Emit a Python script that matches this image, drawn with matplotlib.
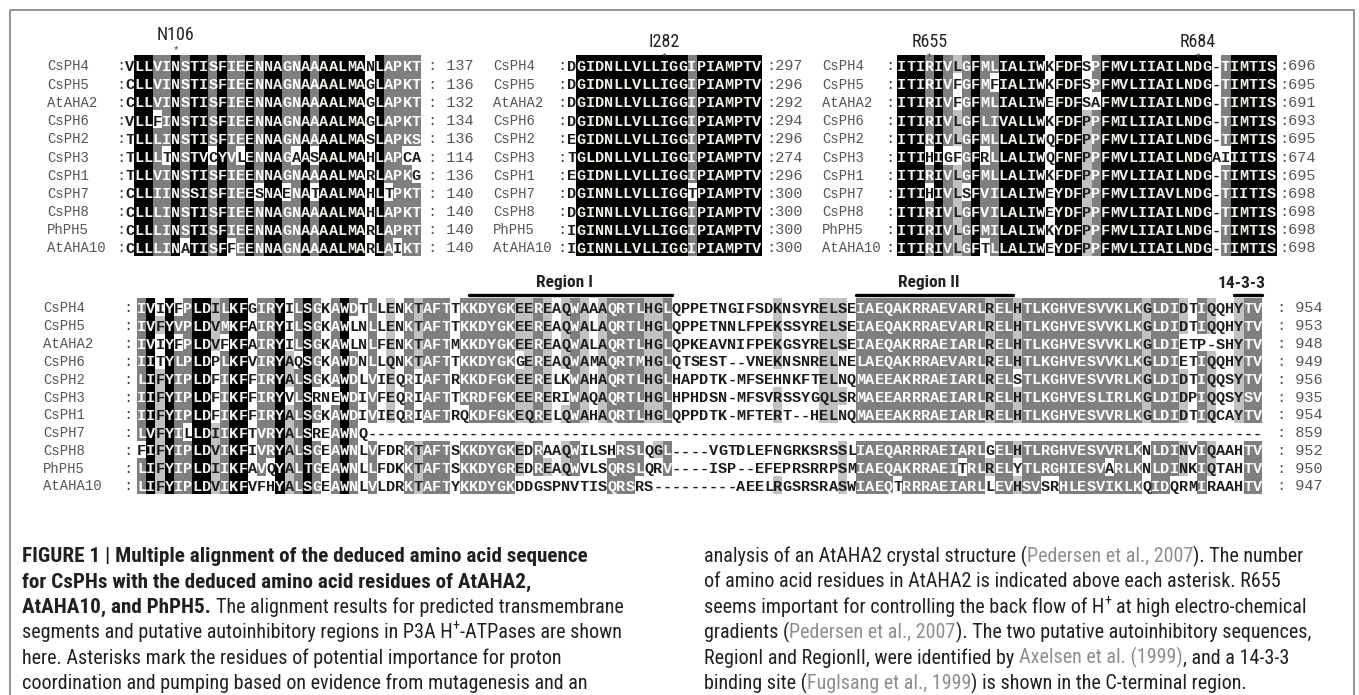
import matplotlib
matplotlib.use("Agg")
import numpy as np
import matplotlib.pyplot as plt
from matplotlib import font_manager
from matplotlib.patches import Rectangle

# ------------------------------------------------------------------ data
names = ["CsPH4", "CsPH5", "AtAHA2", "CsPH6", "CsPH2", "CsPH3",
         "CsPH1", "CsPH7", "CsPH8", "PhPH5", "AtAHA10"]

# transmembrane segment around N106
tm1_seq = [
    "VLLVINSTISFIEENNAGNAAAALMANLAPKT",
    "CLLVINSTISFIEENNAGNAAAALMAGLAPKT",
    "CLLVINSTISFIEENNAGNAAAALMAGLAPKT",
    "VLLFINSTISFIEENNAGNAAAALMAGLAPKT",
    "TLLLINSTISFIEENNAGNAAAALMASLAPKS",
    "TLLLTNSTVCYVLENNAGAASAALMAHLAPCA",
    "TLLVINSTISFIEENNAGNAAAALMARLAPKG",
    "CLLIINSSISFIEESNAENATAALMAHLTPKT",
    "CLLLINSTISFIEENNAGNAAAALMAHLAPKT",
    "CLLLINSTISFIEENNAGNAAAALMARLAPRT",
    "CLLLINATISFFEENNAGNAAAALMARLAIKT",
]
tm1_end = [137, 136, 132, 134, 136, 114, 136, 140, 140, 140, 140]

# transmembrane segment around I282
tm2_seq = [
    "DGIDNLLVLLIGGIPIAMPTV",
    "DGIDNLLVLLIGGIPIAMPTV",
    "DGIDNLLVLLIGGIPIAMPTV",
    "DGIDNLLVLLIGGIPIAMPTV",
    "EGIDNLLVLLIGGIPIAMPTV",
    "TGLDNLLVLLIGGIPIAMPTV",
    "EGIDNLLVLLIGGIPIAMPTV",
    "DGINNLLVLLIGGTPIAMPTV",
    "DGINNLLVLLIGGIPIAMPTV",
    "IGINNLLVLLIGGIPIAMPTV",
    "IGINNLLVLLIGGIPIAMPTV",
]
tm2_end = [297, 296, 292, 294, 296, 274, 296, 300, 300, 300, 300]

# transmembrane segments around R655 / R684
tm3_seq = [
    "ITIRIVLGFMLIALIWKFDFSPFMVLIIAILNDG-TIMTIS",
    "ITIRIVFGFMFIALIWKFDFSPFMVLIIAILNDG-TIMTIS",
    "ITIRIVFGFMLIALIWEFDFSAFMVLIIAILNDG-TIMTIS",
    "ITIRIVLGFLIVALLWKFDFPPFMILIIAILNDG-TIMTIS",
    "ITIRIVLGFMLLALIWQFDFPPFMVLIIAILNDG-TIMTIS",
    "ITIHIGFGFRLLALIWQFNFPPFMVLIIAILNDGAIIITIS",
    "ITIRIVLGFMLLALIWKFDFPPFMVLIIAILNDG-TIMTIS",
    "ITIHIVLSFVILALIWEYDFPPFMVLIIAVLNDG-TIITIS",
    "ITIRIVLGFVILALIWEYDFPPFMVLIIAILNDG-TIMTIS",
    "ITIRIVLGFMILALIWKYDFPPFMVLIIAILNDG-TIMTIS",
    "ITIRIVLGFTLLALIWEYDFPPFMVLIIAILNDG-TIMTIS",
]
tm3_end = [696, 695, 691, 693, 695, 674, 695, 698, 698, 698, 698]

# C-terminal region
ct_seq = [
    "IVIYFPLDILKFGIRYILSGKAW" "DTLLENKTAFTTKKDYGKEEREAQWAAAQRTLHGLQ"
    "PPETNGIFSDKNSYRELSEIAEQAKRRAEVARLREL" "HTLKGHVESVVKLKGLDIDTIQQHYTV",
    "IVFYVPLDVMKFAIRYILSGKAW" "LNLLENKTAFTTKKDYGKEEREAQWALAQRTLHGLQ"
    "PPETNNLFPEKSSYRELSEIAEQAKRRAEVARLREL" "HTLKGHVESVVKLKGLDIDTIQQHYTV",
    "IVIYFPLDVFKFAIRYILSGKAW" "LNLFENKTAFTMKKDYGKEEREAQWALAQRTLHGLQ"
    "PKEAVNIFPEKGSYRELSEIAEQAKRRAEIARLREL" "HTLKGHVESVVKLKGLDIETP-SHYTV",
    "IITYLPLDPLKFVIRYAQSGKAW" "DNLLQNKTAFTTKKDYGKGEREAQWAMAQRTMHGLQ"
    "TSEST--VNEKNSNRELNELAEQAKRRAEVARLREL" "HTLKGHVESVVKLKGLDIETIQQHYTV",
    "LIFYIPLDFIKFFIRYALSGKAW" "DLVIEQRIAFTRKKDFGKEERELKWAHAQRTLHGLH"
    "APDTK-MFSEHNKFTELNQMAEEAKRRAEIARLREL" "STLKGHVESVVRLKGLDIDTIQQSYTV",
    "IIFYIPLDFIKFFIRYVLSRNEW" "DIVFEQRIAFTTKRDFGKEERERIWAQAQRTLHGLH"
    "PHDSN-MFSVRSSYGQLSRMAEEARRRAEIARLREL" "HTLKGHVESLIRLKGLDIDPIQQSYSV",
    "IIFYIPLDFIKFFIRYALSGKAW" "DIVIEQRIAFTRQKDFGKEQRELQWAHAQRTLHGLQ"
    "PPDTK-MFTERT--HELNQMAEEAKRRAEIARLREL" "HTLKGHVESVVRLKGLDIDTIQCAYTV",
    "LVFYILLDIIKFTVRYALSREAW" "NQ" "----------" "----------" "----------" "----"
    "----------" "----------" "----------" "------"
    "----------" "----------" "-------",
    "FIFYIPLDVIKFIVRYALSGEAW" "NLVFDRKTAFTSKKDYGKEDRAAQWILSHRSLQGL-"
    "---VGTDLEFNGRKSRSSLIAEQARRRAEIARLGEL" "HTLRGHVESVVRLKNLDINVIQAAHTV",
    "LIFYIPLDIIKFAVQYALTGEAW" "NLLFDKKTAFTSKKDYGREDREAQWVLSQRSLQRV-"
    "---ISP--EFEPRSRRPSMIAEQAKRRAEITRLREL" "YTLRGHIESVARLKNLDINKIQTAHTV",
    "LIFYIPLDVIKFVFHYALSGEAW" "NLVLDRKTAFTYKKDYGKDDGSPNVTISQRSRS---"
    "------AEELRGSRSRASWIAEQTRRRAEIARLLEV" "HSVSRHLESVIKLKQIDQRMIRAAHTV",
]
ct_end = [954, 953, 948, 949, 956, 935, 954, 859, 952, 950, 947]

# residues marked with an asterisk (AtAHA2 numbering)
site_labels = ["N106", "I282", "R655", "R684"]
site_block = [0, 1, 2, 2]
site_residue = [106, 282, 655, 684]
ref_row = names.index("AtAHA2")

# autoinhibitory regions and 14-3-3 site (alignment columns of the C-terminal block)
region_labels = ["Region I", "Region II", "14-3-3"]
region_first = [36, 78, 119]
region_last = [57, 94, 121]

# ------------------------------------------------------------------ style
W, H = 1359, 695
MONO = "Liberation Mono"
installed = {f.name for f in font_manager.fontManager.ttflist}


def pick(*cands):
    for c in cands:
        if c in installed:
            return c
    return "DejaVu Sans"


NARROW = pick("Liberation Sans Narrow", "Roboto Condensed", "Open Sans Condensed",
              "Arial Narrow", "Liberation Sans")

SIM_GROUPS = ["DN", "EQ", "ST", "KR", "FYW", "LIVM"]
BG = np.array([[1.0, 1.0, 1.0], [0.76, 0.76, 0.76], [0.50, 0.50, 0.50], [0.0, 0.0, 0.0]])
FG = ["#1c1c1c", "#1c1c1c", "#ffffff", "#f4f2e8"]


def group_of(a):
    for g in SIM_GROUPS:
        if a in g:
            return g
    return a


def conservation(seqs):
    n, L = len(seqs), len(seqs[0])
    lv = np.zeros((n, L), dtype=int)
    for j in range(L):
        col = [s[j] for s in seqs]
        counts = {}
        for a in col:
            if a != "-":
                g = group_of(a)
                counts[g] = counts.get(g, 0) + 1
        if not counts:
            continue
        g, k = max(counts.items(), key=lambda kv: kv[1])
        frac = k / n
        level = 3 if k == n else 2 if frac >= 0.8 else 1 if frac >= 0.6 else 0
        for i, a in enumerate(col):
            if a != "-" and group_of(a) == g:
                lv[i, j] = level
    return lv


def column_of(seq, end, residue):
    num = end
    for j in range(len(seq) - 1, -1, -1):
        if seq[j] == "-":
            continue
        if num == residue:
            return j
        num -= 1
    return 0


fig = plt.figure(figsize=(W / 100, H / 100), dpi=100)
ax = fig.add_axes([0, 0, 1, 1])
ax.set_axis_off()

# outer frame
ax.add_patch(Rectangle((10, 10), 1344, 700, fill=False, edgecolor="#8a8a8a",
                       linewidth=1.3, zorder=5))


def draw_block(seqs, ends, x0, cw, yc0, rh, label_x, colon_x, num_gap, num_space,
               fs=11.0, label_fs=10.0):
    lv = conservation(seqs)
    n, L = lv.shape
    top = yc0 - 10.0
    ax.imshow(BG[lv], extent=[x0, x0 + L * cw, top + n * rh, top],
              interpolation="nearest", aspect="auto", zorder=1)
    x1 = x0 + L * cw
    for i, s in enumerate(seqs):
        yc = yc0 + i * rh
        ax.text(label_x, yc + 4.5, names[i], family=MONO, fontsize=label_fs,
                color="#555555", ha="left", va="baseline", zorder=3)
        ax.text(colon_x, yc + 4.5, ":", family=MONO, fontsize=label_fs + 1,
                color="#444444", ha="center", va="baseline", zorder=3)
        for j, ch in enumerate(s):
            ax.text(x0 + (j + 0.5) * cw, yc + 5.0, ch, family=MONO, fontsize=fs,
                    fontweight="bold", color=FG[lv[i, j]], ha="center",
                    va="baseline", zorder=3)
        ax.text(x1 + num_gap, yc + 4.5, ":" + (" " if num_space else "") + str(ends[i]),
                family=MONO, fontsize=fs, color="#555555", ha="left", va="baseline",
                zorder=3)
    return lv


# ---- upper panel: three transmembrane blocks
row_h = 18.2
top_y = 66.0
blocks = [
    dict(seqs=tm1_seq, ends=tm1_end, x0=125.0, label_x=47.0, colon_x=121.0,
         num_gap=6.5, num_space=True),
    dict(seqs=tm2_seq, ends=tm2_end, x0=567.0, label_x=493.0, colon_x=562.0,
         num_gap=4.5, num_space=False),
    dict(seqs=tm3_seq, ends=tm3_end, x0=897.0, label_x=822.0, colon_x=890.0,
         num_gap=3.0, num_space=False),
]
cw_top = 9.25
for b in blocks:
    draw_block(b["seqs"], b["ends"], b["x0"], cw_top, top_y, row_h, b["label_x"],
               b["colon_x"], b["num_gap"], b["num_space"])

for lab, bi, res in zip(site_labels, site_block, site_residue):
    b = blocks[bi]
    j = column_of(b["seqs"][ref_row], b["ends"][ref_row], res)
    xc = b["x0"] + (j + 0.5) * cw_top
    ly = 35 if bi == 0 else 42
    ax.text(xc, ly, lab, family=NARROW, fontsize=13, color="#222222",
            ha="center", va="center", zorder=3)
    ax.text(xc, ly + 15, "*", family=MONO, fontsize=8, color="#444444",
            ha="center", va="center", zorder=3)

# ---- lower panel: C-terminal block
ct_x0 = 137.0
cw_bot = 9.22
bot_y = 308.0
draw_block(ct_seq, ct_end, ct_x0, cw_bot, bot_y, 17.8, 43.0, 128.0, 15.0, True)

line_y = 295.0
for lab, a, b in zip(region_labels, region_first, region_last):
    xa = ct_x0 + a * cw_bot
    xb = ct_x0 + (b + 1) * cw_bot
    ax.plot([xa, xb], [line_y, line_y], color="black", linewidth=2.4,
            solid_capstyle="round", zorder=3)
    ax.text((xa + xb) / 2 - 6, line_y - 12, lab, family=NARROW, fontsize=12.5,
            fontweight="bold", color="#222222", ha="center", va="center", zorder=3)

# ---- caption
renderer = fig.canvas.get_renderer()


def text_width(s, **kw):
    t = ax.text(0, 0, s, **kw)
    w = t.get_window_extent(renderer).width
    t.remove()
    return w


probe = "segments and putative autoinhibitory regions in P3A H+-ATPases are shown"
cap_fs = 10.0 * 600.0 / text_width(probe, family=NARROW, fontsize=10.0)

STYLE = {
    "b": dict(color="#231f20", fontweight="bold"),
    "n": dict(color="#231f20"),
    "g": dict(color="#8e8e8e"),
    "sup": dict(color="#231f20"),
}
SIZE = {"b": 1.05, "n": 1.0, "g": 1.0, "sup": 0.7}


def draw_runs(x, y, runs):
    for text, kind in runs:
        props = dict(STYLE[kind])
        fs = cap_fs * SIZE[kind]
        dy = -8.0 if kind == "sup" else 0.0
        wprops = dict(family=NARROW, fontsize=fs)
        if "fontweight" in props:
            wprops["fontweight"] = props["fontweight"]
        sp = text_width("a a", **wprops) - text_width("aa", **wprops)
        lead = len(text) - len(text.lstrip(" "))
        trail = len(text) - len(text.rstrip(" "))
        x += lead * sp
        body = text.strip(" ")
        t = ax.text(x, y + dy, body, family=NARROW, fontsize=fs, ha="left",
                    va="baseline", zorder=3, **props)
        x += t.get_window_extent(renderer).width + trail * sp
    return x


cap_left = [
    [("FIGURE 1 | Multiple alignment of the deduced amino acid sequence", "b")],
    [("for CsPHs with the deduced amino acid residues of AtAHA2,", "b")],
    [("AtAHA10, and PhPH5.", "b"), (" The alignment results for predicted transmembrane", "n")],
    [("segments and putative autoinhibitory regions in P3A H", "n"), ("+", "sup"),
     ("-ATPases are shown", "n")],
    [("here. Asterisks mark the residues of potential importance for proton", "n")],
    [("coordination and pumping based on evidence from mutagenesis and an", "n")],
]
cap_right = [
    [("analysis of an AtAHA2 crystal structure (", "n"), ("Pedersen et al., 2007", "g"),
     ("). The number", "n")],
    [("of amino acid residues in AtAHA2 is indicated above each asterisk. R655", "n")],
    [("seems important for controlling the back flow of H", "n"), ("+", "sup"),
     (" at high electro-chemical", "n")],
    [("gradients (", "n"), ("Pedersen et al., 2007", "g"),
     ("). The two putative autoinhibitory sequences,", "n")],
    [("RegionI and RegionII, were identified by ", "n"), ("Axelsen et al. (1999)", "g"),
     (", and a 14-3-3", "n")],
    [("binding site (", "n"), ("Fuglsang et al., 1999", "g"),
     (") is shown in the C-terminal region.", "n")],
]
cap_y0, cap_dy = 562.0, 25.4
for k, runs in enumerate(cap_left):
    draw_runs(22.0, cap_y0 + k * cap_dy, runs)
for k, runs in enumerate(cap_right):
    draw_runs(704.0, cap_y0 + k * cap_dy, runs)

ax.set_xlim(0, W)
ax.set_ylim(H, 0)
fig.savefig("out.png", dpi=100, facecolor="white")
